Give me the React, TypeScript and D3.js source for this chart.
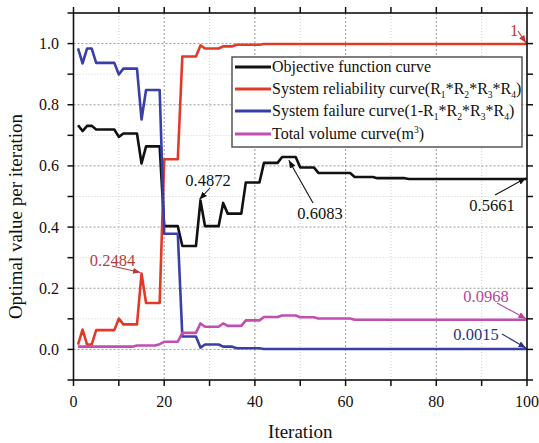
import React from 'react';
import * as d3 from 'd3';

// ---------- data (iteration 1..100) ----------
const iterations: number[] = d3.range(1, 101);

const objectiveCurve: number[] = [
  0.733, 0.714, 0.731, 0.731, 0.719, 0.719, 0.719, 0.719, 0.719, 0.695,
  0.706, 0.706, 0.706, 0.706, 0.608, 0.664, 0.664, 0.664, 0.664, 0.403,
  0.403, 0.403, 0.403, 0.338, 0.338, 0.338, 0.338, 0.487, 0.403, 0.403,
  0.403, 0.403, 0.479, 0.444, 0.444, 0.444, 0.444, 0.546, 0.546, 0.546,
  0.546, 0.610, 0.610, 0.610, 0.610, 0.629, 0.629, 0.629, 0.629, 0.595,
  0.595, 0.595, 0.595, 0.577, 0.577, 0.577, 0.577, 0.577, 0.577, 0.577,
  0.577, 0.564, 0.564, 0.564, 0.564, 0.564, 0.560, 0.560, 0.560, 0.560,
  0.560, 0.560, 0.560, 0.557, 0.557, 0.557, 0.557, 0.557, 0.557, 0.557,
  0.557, 0.557, 0.557, 0.557, 0.557, 0.557, 0.557, 0.557, 0.557, 0.557,
  0.557, 0.557, 0.557, 0.557, 0.557, 0.557, 0.557, 0.557, 0.557, 0.557,
];

const reliabilityCurve: number[] = [
  0.016, 0.065, 0.016, 0.016, 0.063, 0.063, 0.063, 0.063, 0.063, 0.101,
  0.082, 0.082, 0.082, 0.082, 0.248, 0.152, 0.152, 0.152, 0.152, 0.622,
  0.622, 0.622, 0.622, 0.958, 0.958, 0.958, 0.958, 0.994, 0.984, 0.984,
  0.984, 0.984, 0.991, 0.991, 0.991, 0.996, 0.996, 0.996, 0.996, 0.996,
  0.996, 0.9985, 0.9985, 0.9985, 0.9985, 0.9985, 0.9985, 0.9985, 0.9985, 0.9985,
  0.9985, 0.9985, 0.9985, 0.9985, 0.9985, 0.9985, 0.9985, 0.9985, 0.9985, 0.9985,
  0.9985, 0.9985, 0.9985, 0.9985, 0.9985, 0.9985, 0.9985, 0.9985, 0.9985, 0.9985,
  0.9985, 0.9985, 0.9985, 0.9985, 0.9985, 0.9985, 0.9985, 0.9985, 0.9985, 0.9985,
  0.9985, 0.9985, 0.9985, 0.9985, 0.9985, 0.9985, 0.9985, 0.9985, 0.9985, 0.9985,
  0.9985, 0.9985, 0.9985, 0.9985, 0.9985, 0.9985, 0.9985, 0.9985, 0.9985, 0.9985,
];

const failureCurve: number[] = [
  0.984, 0.935, 0.984, 0.984, 0.937, 0.937, 0.937, 0.937, 0.937, 0.899,
  0.918, 0.918, 0.918, 0.918, 0.752, 0.848, 0.848, 0.848, 0.848, 0.378,
  0.378, 0.378, 0.378, 0.042, 0.042, 0.042, 0.042, 0.006, 0.016, 0.016,
  0.016, 0.016, 0.009, 0.009, 0.009, 0.004, 0.004, 0.004, 0.004, 0.004,
  0.004, 0.0015, 0.0015, 0.0015, 0.0015, 0.0015, 0.0015, 0.0015, 0.0015, 0.0015,
  0.0015, 0.0015, 0.0015, 0.0015, 0.0015, 0.0015, 0.0015, 0.0015, 0.0015, 0.0015,
  0.0015, 0.0015, 0.0015, 0.0015, 0.0015, 0.0015, 0.0015, 0.0015, 0.0015, 0.0015,
  0.0015, 0.0015, 0.0015, 0.0015, 0.0015, 0.0015, 0.0015, 0.0015, 0.0015, 0.0015,
  0.0015, 0.0015, 0.0015, 0.0015, 0.0015, 0.0015, 0.0015, 0.0015, 0.0015, 0.0015,
  0.0015, 0.0015, 0.0015, 0.0015, 0.0015, 0.0015, 0.0015, 0.0015, 0.0015, 0.0015,
];

const volumeCurve: number[] = [
  0.009, 0.009, 0.009, 0.009, 0.009, 0.009, 0.009, 0.009, 0.009, 0.009,
  0.009, 0.009, 0.009, 0.013, 0.013, 0.013, 0.013, 0.013, 0.017, 0.025,
  0.025, 0.025, 0.025, 0.054, 0.054, 0.054, 0.054, 0.085, 0.074, 0.074,
  0.074, 0.074, 0.085, 0.077, 0.077, 0.077, 0.077, 0.095, 0.095, 0.095,
  0.095, 0.106, 0.106, 0.106, 0.106, 0.111, 0.111, 0.111, 0.111, 0.105,
  0.105, 0.105, 0.105, 0.101, 0.101, 0.101, 0.101, 0.101, 0.101, 0.101,
  0.101, 0.097, 0.097, 0.097, 0.097, 0.097, 0.097, 0.097, 0.097, 0.097,
  0.097, 0.097, 0.097, 0.097, 0.097, 0.097, 0.097, 0.097, 0.097, 0.097,
  0.097, 0.097, 0.097, 0.097, 0.097, 0.097, 0.097, 0.097, 0.097, 0.097,
  0.097, 0.097, 0.097, 0.097, 0.097, 0.097, 0.097, 0.097, 0.097, 0.097,
];

const xTickValues: number[] = [0, 10, 20, 30, 40, 50, 60, 70, 80, 90, 100];
const xTickLabels: number[] = [0, 20, 40, 60, 80, 100];
const yTickValues: number[] = [-0.1, 0, 0.1, 0.2, 0.3, 0.4, 0.5, 0.6, 0.7, 0.8, 0.9, 1.0, 1.1];
const yTickLabels: number[] = [0, 0.2, 0.4, 0.6, 0.8, 1.0];

type Part = [string, 'n' | 'sub' | 'sup'];
const legendLabels: Part[][] = [
  [['Objective function curve', 'n']],
  [['System reliability curve(R', 'n'], ['1', 'sub'], ['*R', 'n'], ['2', 'sub'], ['*R', 'n'], ['3', 'sub'], ['*R', 'n'], ['4', 'sub'], [')', 'n']],
  [['System failure curve(1-R', 'n'], ['1', 'sub'], ['*R', 'n'], ['2', 'sub'], ['*R', 'n'], ['3', 'sub'], ['*R', 'n'], ['4', 'sub'], [')', 'n']],
  [['Total volume curve(m', 'n'], ['3', 'sup'], [')', 'n']],
];

const annotationTexts: string[] = ['0.2484', '0.4872', '0.6083', '0.5661', '0.0968', '0.0015', '1'];
// target points (iteration, value) that each arrow points at
const annotationTargets: [number, number][] = [
  [15, 0.248], [28, 0.487], [47.7, 0.615], [100, 0.557], [100, 0.097], [100, 0.0015], [100, 0.9985],
];

// ---------- styling / layout ----------
const W = 539, H = 443;
const P = { left: 73.5, right: 527, top: 13, bottom: 380 };
const SERIF = '"Liberation Serif", "Times New Roman", serif';
const COLORS = ['#111111', '#e33a28', '#3a3fa8', '#c24db3'];
const ANN_COLORS = ['#b2403c', '#111111', '#111111', '#111111', '#b3479e', '#2c3477', '#c8382a'];
// label centre and arrow start (pixels)
const ANN_LAYOUT = [
  { tx: 112.5, ty: 260, sx: 112, sy: 266 },
  { tx: 208, ty: 180, sx: 210, sy: 188 },
  { tx: 320, ty: 213, sx: 313, sy: 203 },
  { tx: 492, ty: 205, sx: 495, sy: 195 },
  { tx: 486, ty: 296, sx: 497, sy: 303 },
  { tx: 476, ty: 334, sx: 502, sy: 334 },
  { tx: 514, ty: 30, sx: 518, sy: 31 },
];

function RichText({ parts, x, y, fontSize }: { parts: Part[]; x: number; y: number; fontSize: number }) {
  let cur = 0;
  return (
    <text x={x} y={y} fontSize={fontSize} fontFamily={SERIF} fill="#111">
      {parts.map(([s, k], i) => {
        const target = k === 'sub' ? 4 : k === 'sup' ? -6 : 0;
        const dy = target - cur;
        cur = target;
        return (
          <tspan key={i} dy={dy} fontSize={k === 'n' ? fontSize : fontSize * 0.6}>
            {s}
          </tspan>
        );
      })}
    </text>
  );
}

export default function App() {
  const x = d3.scaleLinear().domain([0, 100]).range([P.left, P.right]);
  const y = d3.scaleLinear().domain([-0.1, 1.1]).range([P.bottom, P.top]);
  const line = d3
    .line<number>()
    .x((_, i) => x(iterations[i]))
    .y((d) => y(d));

  const series = [objectiveCurve, reliabilityCurve, failureCurve, volumeCurve];

  const xGrid = d3.range(10, 100, 10);
  const yGrid = d3.range(0, 1.05, 0.1);
  const tickLen = 6;

  return (
    <svg width={W} height={H} style={{ position: 'absolute', left: 0, top: 0, background: '#fff' }}>
      <defs>
        {ANN_COLORS.map((c, i) => (
          <marker key={i} id={`arr${i}`} viewBox="0 0 10 10" refX="10" refY="5" markerWidth="7" markerHeight="7" orient="auto">
            <path d="M0,1 L10,5 L0,9 z" fill={c} />
          </marker>
        ))}
      </defs>
      <rect x={0} y={0} width={W} height={H} fill="#fff" />

      {/* grid */}
      {xGrid.map((v) => {
        const major = Math.round(v) % 20 === 0;
        return (
          <line key={'gx' + v} x1={x(v)} x2={x(v)} y1={P.top} y2={P.bottom}
            stroke={major ? '#9a9a9a' : '#cfcfcf'} strokeWidth={1} strokeDasharray={major ? '2,2' : '1,2'} />
        );
      })}
      {yGrid.map((v) => {
        const major = Math.round(v * 10) % 2 === 0;
        return (
          <line key={'gy' + v} x1={P.left} x2={P.right} y1={y(v)} y2={y(v)}
            stroke={major ? '#9a9a9a' : '#cfcfcf'} strokeWidth={1} strokeDasharray={major ? '2,2' : '1,2'} />
        );
      })}

      {/* curves */}
      {series.map((s, i) => (
        <path key={i} d={line(s) || ''} fill="none" stroke={COLORS[i]} strokeWidth={2.6} strokeLinejoin="round" />
      ))}

      {/* legend */}
      <rect x={232} y={57} width={290} height={90} fill="#fff" stroke="#555" strokeWidth={1.5} />
      {legendLabels.map((parts, i) => {
        const cy = [67, 89, 111, 134][i];
        return (
          <g key={i}>
            <line x1={235} x2={271} y1={cy} y2={cy} stroke={COLORS[i]} strokeWidth={2.8} />
            <RichText parts={parts} x={272} y={cy + 5} fontSize={16} />
          </g>
        );
      })}

      {/* frame */}
      <rect x={P.left} y={P.top} width={P.right - P.left} height={P.bottom - P.top} fill="none" stroke="#111" strokeWidth={1.6} />

      {/* ticks */}
      {xTickValues.map((v) => (
        <g key={'tx' + v}>
          <line x1={x(v)} x2={x(v)} y1={P.bottom} y2={P.bottom + tickLen} stroke="#111" strokeWidth={1.5} />
          <line x1={x(v)} x2={x(v)} y1={P.top} y2={P.top - tickLen} stroke="#111" strokeWidth={1.5} />
        </g>
      ))}
      {yTickValues.map((v) => (
        <g key={'ty' + v}>
          <line x1={P.left} x2={P.left - tickLen} y1={y(v)} y2={y(v)} stroke="#111" strokeWidth={1.5} />
          <line x1={P.right} x2={P.right + tickLen} y1={y(v)} y2={y(v)} stroke="#111" strokeWidth={1.5} />
        </g>
      ))}
      {xTickLabels.map((v) => (
        <text key={'lx' + v} x={x(v)} y={407} textAnchor="middle" fontSize={16} fontFamily={SERIF} fill="#111">
          {v}
        </text>
      ))}
      {yTickLabels.map((v) => (
        <text key={'ly' + v} x={59} y={y(v) + 5.5} textAnchor="end" fontSize={16} fontFamily={SERIF} fill="#111">
          {d3.format('.1f')(v)}
        </text>
      ))}

      {/* axis titles */}
      <text x={(P.left + P.right) / 2} y={438} textAnchor="middle" fontSize={19} fontFamily={SERIF} fill="#111">
        Iteration
      </text>
      <text transform={`translate(22,${(P.top + P.bottom) / 2 + 20}) rotate(-90)`} textAnchor="middle" fontSize={19} fontFamily={SERIF} fill="#111">
        Optimal value per iteration
      </text>

      {/* annotations */}
      {annotationTexts.map((t, i) => {
        const L = ANN_LAYOUT[i];
        const [ti, tv] = annotationTargets[i];
        return (
          <g key={'an' + i}>
            <line x1={L.sx} y1={L.sy} x2={x(ti) - 1} y2={y(tv) - 1} stroke={ANN_COLORS[i]} strokeWidth={1.1} markerEnd={`url(#arr${i})`} />
            <text x={L.tx} y={L.ty + 5.5} textAnchor="middle" fontSize={16.5} fontFamily={SERIF} fill={ANN_COLORS[i]}>
              {t}
            </text>
          </g>
        );
      })}
    </svg>
  );
}
